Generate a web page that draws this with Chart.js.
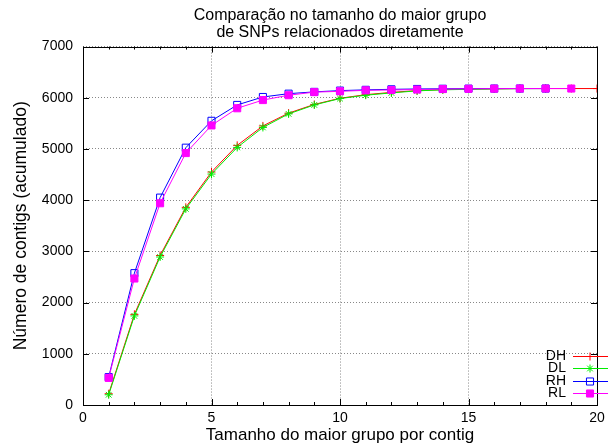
<!DOCTYPE html>
<html>
<head>
<meta charset="utf-8">
<script src="https://cdn.jsdelivr.net/npm/chart.js@4"></script>
<style>
  html, body { margin: 0; padding: 0; background: #fff; }
  #wrap { width: 616px; height: 446px; }
</style>
</head>
<body>
<div id="wrap"><canvas id="chart" width="616" height="446"></canvas></div>
<script>
// tamanho do maior grupo (eixo x)
const sizes = [1, 2, 3, 4, 5, 6, 7, 8, 9, 10, 11, 12, 13, 14, 15, 16, 17, 18, 19, 20];

// contigs acumulados por serie
const dh = [220, 1770, 2920, 3860, 4550, 5070, 5450, 5700, 5870, 5990, 6060, 6105, 6140, 6160, 6170, 6175, 6180, 6180, 6180, 6180];
const dl = [200, 1740, 2890, 3830, 4510, 5030, 5420, 5685, 5860, 5985, 6050, 6095, 6135, 6155, 6165, 6172, 6178, 6180];
const rh = [545, 2575, 4050, 5025, 5550, 5860, 6015, 6080, 6115, 6140, 6155, 6165, 6172, 6176, 6178, 6180, 6180, 6180];
const rl = [530, 2470, 3940, 4920, 5460, 5795, 5955, 6050, 6110, 6126, 6145, 6152, 6160, 6170, 6175, 6178, 6180, 6180, 6180];

const xTicks = [0, 5, 10, 15, 20];
const yTicks = [0, 1000, 2000, 3000, 4000, 5000, 6000, 7000];

const FONT = "'Liberation Sans', Arial, Helvetica, sans-serif";

function pts(vals) {
  return vals.map((v, i) => ({ x: sizes[i], y: v }));
}

function series(label, vals, color, style, radius, fill, order) {
  return {
    label: label,
    data: pts(vals),
    borderColor: color,
    backgroundColor: fill,
    borderWidth: 1,
    pointStyle: style,
    pointRadius: radius,
    pointBorderColor: color,
    pointBackgroundColor: fill,
    pointBorderWidth: 1,
    tension: 0,
    order: order,
  };
}

// caixa do grafico e marcas de escala para dentro (estilo gnuplot)
const framePlugin = {
  id: 'frame',
  beforeDatasetsDraw(chart) {
    const { ctx, chartArea: a, scales } = chart;
    ctx.save();
    ctx.strokeStyle = '#000';
    ctx.lineWidth = 1;
    ctx.beginPath();
    for (let v = 0; v <= 20; v++) {
      const x = Math.round(scales.x.getPixelForValue(v)) + 0.5;
      const len = v % 5 === 0 ? 6 : 3;
      ctx.moveTo(x, a.bottom); ctx.lineTo(x, a.bottom - len);
      ctx.moveTo(x, a.top); ctx.lineTo(x, a.top + len);
    }
    yTicks.forEach((v) => {
      const y = Math.round(scales.y.getPixelForValue(v)) + 0.5;
      ctx.moveTo(a.left, y); ctx.lineTo(a.left + 6, y);
      ctx.moveTo(a.right, y); ctx.lineTo(a.right - 6, y);
    });
    ctx.stroke();
    ctx.strokeRect(Math.round(a.left) + 0.5, Math.round(a.top) + 0.5,
      Math.round(a.right - a.left), Math.round(a.bottom - a.top));
    ctx.restore();
  },
};

// legenda no canto inferior direito, dentro do grafico
const legendPlugin = {
  id: 'keybox',
  afterDraw(chart) {
    const { ctx } = chart;
    ctx.save();
    ctx.font = '14px ' + FONT;
    ctx.textAlign = 'right';
    ctx.textBaseline = 'middle';
    chart.data.datasets.forEach((ds, i) => {
      const y = 356 + i * 12.4;
      ctx.fillStyle = '#000';
      ctx.fillText(ds.label, 566, y);
      ctx.strokeStyle = ds.borderColor;
      ctx.lineWidth = 1;
      ctx.beginPath();
      ctx.moveTo(573, Math.round(y) + 0.5);
      ctx.lineTo(608, Math.round(y) + 0.5);
      ctx.stroke();
      ctx.fillStyle = ds.pointBackgroundColor;
      Chart.helpers.drawPoint(ctx, {
        pointStyle: ds.pointStyle,
        radius: ds.pointRadius,
        rotation: 0,
        borderWidth: 1,
      }, 590, Math.round(y) + 0.5);
    });
    ctx.restore();
  },
};

new Chart(document.getElementById('chart'), {
  type: 'line',
  data: {
    datasets: [
      series('DH', dh, '#ff0000', 'cross', 4, '#ff0000', 3),
      series('DL', dl, '#00ee00', 'star', 4, '#00ee00', 2),
      series('RH', rh, '#0000ff', 'rect', 5, 'rgba(0,0,0,0)', 1),
      series('RL', rl, '#ff00ff', 'rect', 5, '#ff00ff', 0),
    ],
  },
  options: {
    responsive: false,
    animation: false,
    devicePixelRatio: 1,
    layout: { padding: { left: 0, right: 19, top: 0, bottom: 0 } },
    plugins: {
      legend: { display: false },
      tooltip: { enabled: false },
      title: {
        display: true,
        fullSize: false,
        text: ['Comparação no tamanho do maior grupo', 'de SNPs relacionados diretamente'],
        color: '#000',
        font: { family: FONT, size: 16, weight: 'normal', lineHeight: 1.08 },
        padding: { top: 7, bottom: 5 },
      },
    },
    scales: {
      x: {
        type: 'linear',
        min: 0,
        max: 20,
        afterBuildTicks(scale) { scale.ticks = xTicks.map((v) => ({ value: v })); },
        afterFit(scale) { scale.height = 41; },
        ticks: { color: '#000', font: { family: FONT, size: 14 }, padding: 5, maxRotation: 0 },
        grid: { color: '#888', drawTicks: false },
        border: { display: false, dash: [1, 2] },
        title: {
          display: true,
          text: 'Tamanho do maior grupo por contig',
          color: '#000',
          font: { family: FONT, size: 17 },
          padding: { top: 0, bottom: 0 },
        },
      },
      y: {
        min: 0,
        max: 7000,
        afterBuildTicks(scale) { scale.ticks = yTicks.map((v) => ({ value: v })); },
        afterFit(scale) { scale.width = 83; },
        ticks: {
          color: '#000',
          font: { family: FONT, size: 14 },
          padding: 10,
          callback: (v) => String(v),
        },
        grid: { color: '#888', drawTicks: false },
        border: { display: false, dash: [1, 2] },
        title: {
          display: true,
          text: 'Número de contigs (acumulado)',
          color: '#000',
          font: { family: FONT, size: 17.5 },
          padding: { top: 11, bottom: 0 },
        },
      },
    },
  },
  plugins: [framePlugin, legendPlugin],
});
</script>
</body>
</html>
